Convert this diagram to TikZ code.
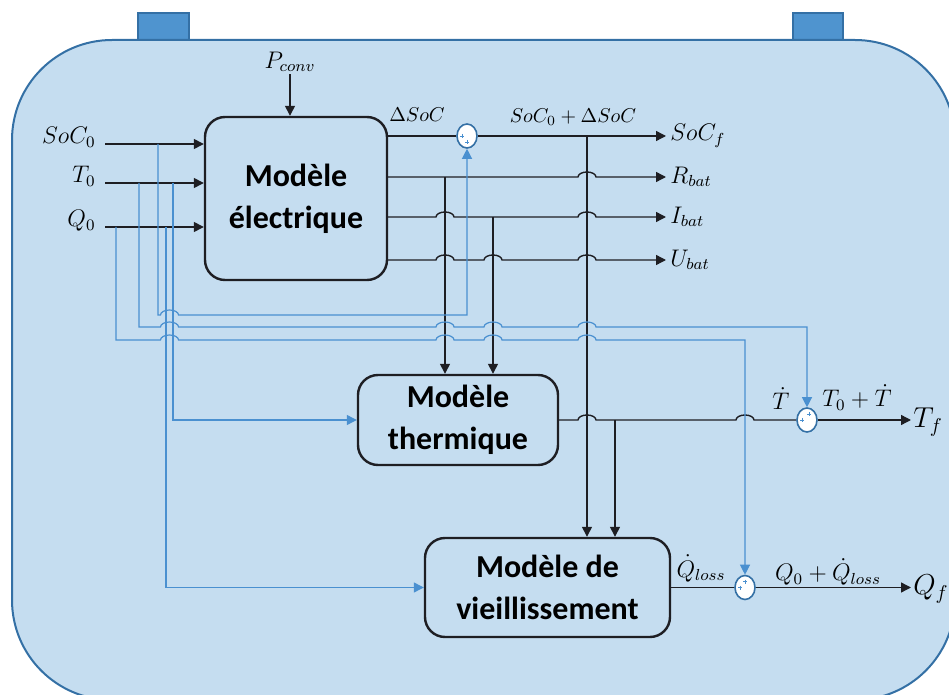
\documentclass[tikz,border=0pt]{standalone}
\usepackage{fontspec}
\usetikzlibrary{arrows.meta,shapes.geometric}
\newfontfamily\boxfont{Carlito}
\definecolor{batfill}{RGB}{197,221,240}
\definecolor{batline}{RGB}{52,112,165}
\definecolor{termfill}{RGB}{79,148,207}
\definecolor{sigblue}{RGB}{74,144,208}
\definecolor{sigblack}{RGB}{30,30,35}
\newcommand\hop[1]{-- ([xshift=-4.5pt]#1) arc[start angle=180,end angle=0,x radius=4.5pt,y radius=2.5pt]}
\begin{document}
\begin{tikzpicture}[x=0.5pt,y=-0.5pt,>={Triangle[length=5pt,width=5pt]},
  model/.style={draw=sigblack,line width=1.2pt,rounded corners=10pt,align=center,inner sep=2pt,font=\boxfont\bfseries\fontsize{16}{21}\selectfont},
  sum/.style={ellipse,draw=batline,fill=white,line width=0.8pt,minimum width=10pt,minimum height=12pt,inner sep=0pt},
  lbl/.style={inner sep=1pt,font=\large},
  wire/.style={draw=sigblack,line width=0.7pt},
  bwire/.style={draw=sigblue,line width=0.6pt}]
\useasboundingbox (0,0) rectangle (949,695);
\draw[draw=batline,fill=termfill,line width=0.8pt] (138,13) rectangle (189,40);
\draw[draw=batline,fill=termfill,line width=0.8pt] (793,13) rectangle (843,40);
\draw[draw=batline,fill=batfill,line width=1pt,rounded corners=50pt] (12,40) rectangle (955,700);

\node[model,minimum width=91pt,minimum height=81.5pt] (elec) at (296,198.5) {Modèle\\électrique};
\node[model,minimum width=100pt,minimum height=45pt] (therm) at (458,420) {Modèle\\thermique};
\node[model,minimum width=122.5pt,minimum height=49.5pt] (vieil) at (547.5,587.5) {Modèle de\\vieillissement};

\node[sum] (sumS) at (467,136) {};
\node[sum] (sumT) at (807,420) {};
\node[sum] (sumQ) at (745,587.5) {};

\node[lbl,anchor=base east] (soc0) at (98,144) {$SoC_0$};
\node[lbl,anchor=base east] (t0) at (98,183) {$T_0$};
\node[lbl,anchor=base east] (q0) at (98,227) {$Q_0$};
\node[lbl] (pconv) at (290,62) {$P_{conv}$};
\node[lbl,anchor=west] (socf) at (668,136) {$SoC_f$};
\node[lbl,anchor=west] (rbat) at (668,177) {$R_{bat}$};
\node[lbl,anchor=west] (ibat) at (668,217) {$I_{bat}$};
\node[lbl,anchor=west] (ubat) at (668,260) {$U_{bat}$};
\node[lbl,font=\Large,anchor=west] (tf) at (911,422) {$T_f$};
\node[lbl,font=\Large,anchor=west] (qf) at (911,589) {$Q_f$};
\node[lbl,font=\normalsize,anchor=base] (dsoc) at (417,122) {$\Delta SoC$};
\node[lbl,font=\normalsize,anchor=base] (socsum) at (573,123) {$SoC_0+\Delta SoC$};
\node[lbl,anchor=base] (tdot) at (781,410) {$\dot T$};
\node[lbl,anchor=base] (tsum) at (857,407) {$T_0+\dot T$};
\node[lbl,anchor=base] (qdot) at (701,577) {$\dot Q_{loss}$};
\node[lbl,anchor=base] (qsum) at (828,581) {$Q_0+\dot Q_{loss}$};

\coordinate (xc) at (116,0);
\coordinate (xb) at (139,0);
\coordinate (xa) at (158,0);
\coordinate (xe) at (166,0);
\coordinate (xd) at (173,0);
\coordinate (xde) at (169.5,0);
\coordinate (xR) at (445,0);
\coordinate (xI) at (493,0);
\coordinate (xS) at (587,0);
\coordinate (xTh) at (615,0);
\coordinate (r1) at (0,315);
\coordinate (r2) at (0,327);
\coordinate (r3) at (0,340);

\foreach \n in {soc0,t0,q0}
  \draw[wire,->] ([xshift=3.5pt]\n.base east) -- (\n.base east -| elec.west);
\draw[wire,->] (pconv.south) -- (pconv.south |- elec.north);
\draw[wire] (elec.east |- sumS) -- (sumS.west);
\draw[wire,->] (sumS.east) -- ([xshift=-1pt]socf.west);
\draw[wire,->] (elec.east |- rbat.west) \hop{xS |- rbat.west} -- ([xshift=-1pt]rbat.west);
\draw[wire,->] (elec.east |- ibat.west) \hop{xR |- ibat.west} \hop{xS |- ibat.west} -- ([xshift=-1pt]ibat.west);
\draw[wire,->] (elec.east |- ubat.west) \hop{xR |- ubat.west} \hop{xI |- ubat.west} \hop{xS |- ubat.west} -- ([xshift=-1pt]ubat.west);
\draw[wire,->] (xR |- rbat.west) -- (xR |- therm.north);
\draw[wire,->] (xI |- ibat.west) -- (xI |- therm.north);
\draw[wire,->] (xS |- socf.west) -- (xS |- vieil.north);
\draw[wire,->] (xTh |- therm.east) -- (xTh |- vieil.north);
\draw[wire] (therm.east) \hop{xS |- therm.east} \hop{sumQ |- therm.east} -- (sumT.west);
\draw[wire,->] (sumT.east) -- (sumT.east -| tf.west);
\draw[wire] (vieil.east) -- (sumQ.west);
\draw[wire,->] (sumQ.east) -- (sumQ.east -| qf.west);

\draw[bwire,->] (xa |- soc0.base) -- (xa |- r1) \hop{xde |- r1} -- (sumS |- r1) -- (sumS.south);
\draw[bwire,->] (xb |- t0.base) -- (xb |- r2) \hop{xde |- r2} \hop{xR |- r2} \hop{xI |- r2} \hop{xS |- r2} -- (sumT |- r2) -- (sumT.north);
\draw[bwire,->] (xc |- q0.base) -- (xc |- r3) \hop{xde |- r3} \hop{xR |- r3} \hop{xI |- r3} \hop{xS |- r3} -- (sumQ |- r3) -- (sumQ.north);
\draw[bwire,->] (xd |- t0.base) -- (xd |- therm.west) -- (therm.west);
\draw[bwire,->] (xe |- q0.base) -- (xe |- vieil.west) -- (vieil.west);

\foreach \s/\dx/\dy in {sumS/-5/0,sumS/0/6,sumT/2/-6,sumT/-5/0,sumQ/0/-6,sumQ/-5/0}
  \draw[sigblue,line width=0.3pt] ([shift={(\dx,\dy)}]\s.center) +(-2,0) -- +(2,0) +(0,-2) -- +(0,2);
\end{tikzpicture}
\end{document}
